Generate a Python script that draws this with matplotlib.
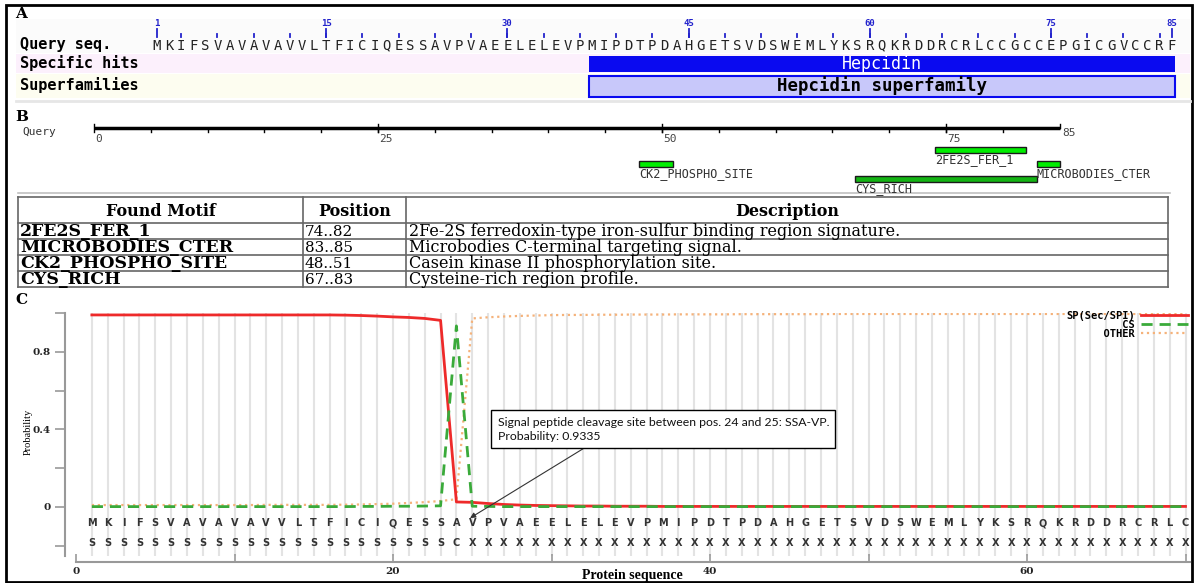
import numpy as np
import matplotlib.pyplot as plt
from matplotlib.patches import Rectangle

W, H = 1195, 583

# ---------------- data ----------------
query_seq = "MKIFSVAVAVAVVLTFICIQESSAVPVAEELELEVPMIPDTPDAHGETSVDSWEMLYKSRQKRDDRCRLCCGCCEPGICGVCCRF"
seq_ticks = [1, 15, 30, 45, 60, 75, 85]
hit_names = ["Hepcidin", "Hepcidin superfamily"]
hit_start = [37, 37]
hit_end = [85, 85]

motif_names = ["2FE2S_FER_1", "MICROBODIES_CTER", "CK2_PHOSPHO_SITE", "CYS_RICH"]
motif_start = [74, 83, 48, 67]
motif_end = [82, 85, 51, 83]
motif_desc = [
    "2Fe-2S ferredoxin-type iron-sulfur binding region signature.",
    "Microbodies C-terminal targeting signal.",
    "Casein kinase II phosphorylation site.",
    "Cysteine-rich region profile.",
]
ruler_ticks = [0, 25, 50, 75]
ruler_len = 85

sp_seq = "MKIFSVAVAVAVVLTFICIQESSAVPVAEELELEVPMIPDTPDAHGETSVDSWEMLYKSRQKRDDRCRLC"
sp_class = "SSSSSSSSSSSSSSSSSSSSSSSCXXXXXXXXXXXXXXXXXXXXXXXXXXXXXXXXXXXXXXXXXXXXXX"
sp_prob = [
    0.990, 0.990, 0.990, 0.990, 0.990, 0.990, 0.990, 0.990, 0.990, 0.990,
    0.990, 0.990, 0.990, 0.990, 0.990, 0.990, 0.989, 0.987, 0.984, 0.980,
    0.977, 0.972, 0.962, 0.026, 0.024, 0.018, 0.013, 0.010, 0.008, 0.007,
    0.006, 0.005, 0.005, 0.004, 0.004, 0.004, 0.003, 0.003, 0.003, 0.003,
    0.003, 0.003, 0.003, 0.003, 0.003, 0.003, 0.003, 0.003, 0.003, 0.003,
    0.003, 0.003, 0.003, 0.003, 0.003, 0.003, 0.003, 0.003, 0.003, 0.003,
    0.003, 0.003, 0.003, 0.003, 0.003, 0.003, 0.003, 0.003, 0.003, 0.003,
]
cs_prob = [
    0.002, 0.002, 0.002, 0.002, 0.002, 0.002, 0.002, 0.002, 0.002, 0.002,
    0.002, 0.002, 0.002, 0.002, 0.002, 0.002, 0.002, 0.003, 0.003, 0.004,
    0.004, 0.005, 0.006, 0.9335, 0.004, 0.003, 0.002, 0.002, 0.002, 0.002,
    0.002, 0.002, 0.002, 0.002, 0.002, 0.002, 0.002, 0.002, 0.002, 0.002,
    0.002, 0.002, 0.002, 0.002, 0.002, 0.002, 0.002, 0.002, 0.002, 0.002,
    0.002, 0.002, 0.002, 0.002, 0.002, 0.002, 0.002, 0.002, 0.002, 0.002,
    0.002, 0.002, 0.002, 0.002, 0.002, 0.002, 0.002, 0.002, 0.002, 0.002,
]
other_prob = [
    0.010, 0.010, 0.010, 0.010, 0.010, 0.010, 0.010, 0.010, 0.010, 0.010,
    0.010, 0.011, 0.011, 0.011, 0.011, 0.011, 0.012, 0.013, 0.015, 0.017,
    0.021, 0.025, 0.031, 0.040, 0.972, 0.978, 0.982, 0.985, 0.987, 0.989,
    0.990, 0.990, 0.991, 0.991, 0.992, 0.992, 0.992, 0.993, 0.993, 0.993,
    0.993, 0.994, 0.994, 0.994, 0.994, 0.994, 0.994, 0.995, 0.995, 0.995,
    0.995, 0.995, 0.995, 0.995, 0.995, 0.995, 0.995, 0.995, 0.995, 0.995,
    0.995, 0.995, 0.995, 0.995, 0.995, 0.995, 0.995, 0.995, 0.995, 0.995,
]
cleave_note = "Signal peptide cleavage site between pos. 24 and 25: SSA-VP.\nProbability: 0.9335"
cleave_pos = 25

fig = plt.figure(figsize=(W / 100, H / 100), dpi=100)


def px_axes(x0, y0, x1, y1):
    return fig.add_axes([x0 / W, 1 - y1 / H, (x1 - x0) / W, (y1 - y0) / H])


MONO = "DejaVu Sans Mono"
SERIF = "DejaVu Serif"

# overlay in pixel coords: frame, panel letters, table
ax_o = px_axes(0, 0, W, H)
ax_o.set_xlim(0, W)
ax_o.set_ylim(H, 0)
ax_o.axis("off")
ax_o.add_patch(Rectangle((6, 5), 1186, 577, fill=False, lw=2, ec="black"))
for lab, yy in zip("ABC", [14, 117, 300]):
    ax_o.text(15, yy, lab, family=SERIF, weight="bold", fontsize=11, va="center")

# ---------------- panel A ----------------
ax_o.add_patch(Rectangle((16, 19), 1174, 34, fc="#fbfbfb", ec="none"))
ax_o.add_patch(Rectangle((16, 54), 1174, 19, fc="#fcf0fc", ec="none"))
ax_o.add_patch(Rectangle((16, 74), 1174, 24, fc="#fdfdf0", ec="none"))
ax_o.plot([16, 1190], [101, 101], color="#e6e6e6", lw=2)
for lab, yy in zip(["Query seq.", "Specific hits", "Superfamilies"], [45, 63, 85]):
    ax_o.text(20, yy, lab, family=MONO, weight="bold", fontsize=11, va="center")

a_x0, a_dx = 157, 12.08
ax_a = px_axes(0, 0, W, 103)
ax_a.set_xlim((0 - a_x0) / a_dx + 1, (W - a_x0) / a_dx + 1)
ax_a.set_ylim(103, 0)
ax_a.axis("off")

for i, ch in enumerate(query_seq):
    ax_a.text(i + 1, 45.5, ch, ha="center", va="center", family=MONO,
              fontsize=10, color="#222222")
for r in range(3, len(query_seq) + 1, 3):
    ax_a.plot([r, r], [34, 37.5], color="#2222cc", lw=1.3)
for r in seq_ticks:
    ax_a.plot([r, r], [29, 37.5], color="#2222cc", lw=1.3)
    ax_a.text(r, 24, str(r), ha="center", va="center", family=MONO,
              fontsize=6.5, color="#2222cc", weight="bold")

ax_a.barh(64, hit_end[0] - hit_start[0] + 0.45, left=hit_start[0] + 0.8 - 1, height=16,
          color="#0a0af0")
ax_a.text((hit_start[0] + hit_end[0]) / 2, 64, hit_names[0], ha="center", va="center",
          family=MONO, fontsize=12, color="white")
ax_a.barh(86, hit_end[1] - hit_start[1] + 0.45, left=hit_start[1] + 0.8 - 1, height=21,
          color="#c8c8fa", edgecolor="#0a0af0", lw=1.5)
ax_a.text((hit_start[1] + hit_end[1]) / 2, 86, hit_names[1], ha="center", va="center",
          family=MONO, fontsize=12.5, weight="bold", color="black")

# ---------------- panel B ----------------
b_x0, b_dx = 94, 11.36
ax_b = px_axes(0, 103, W, 195)
ax_b.set_xlim((0 - b_x0) / b_dx, (W - b_x0) / b_dx)
ax_b.set_ylim(195, 103)
ax_b.axis("off")
ax_o.text(22, 132, "Query", family=MONO, fontsize=8, color="#333333", va="center")

ax_b.plot([0, ruler_len], [128, 128], color="black", lw=2.5, solid_capstyle="butt")
for r in range(5, ruler_len, 5):
    ax_b.plot([r, r], [128, 131.5], color="black", lw=1)
for r in ruler_ticks:
    ax_b.plot([r, r], [124, 131.5], color="black", lw=1)
    ax_b.text(r + 0.1, 139.5, str(r), ha="left", va="center", family=MONO,
              fontsize=8, color="#444444")
ax_b.plot([ruler_len, ruler_len], [124, 128], color="black", lw=1)
ax_b.text(ruler_len + 0.2, 133, str(ruler_len), ha="left", va="center", family=MONO,
          fontsize=8, color="#444444")

lane_y = [150, 164, 164, 179]
lane_col = ["#00ee00", "#00ee00", "#00ee00", "#14b414"]
for name, s, e, yy, c in zip(motif_names, motif_start, motif_end, lane_y, lane_col):
    ax_b.barh(yy, e - s, left=s, height=6, color=c, edgecolor="#1a1a1a", lw=1)
    ax_b.text(s, yy + 3.2, name, ha="left", va="top", family=MONO,
              fontsize=8.5, color="#333333")
ax_o.plot([18, 1170], [193, 193], color="#c0c0c0", lw=1.2)

# ---------------- table ----------------
col_x = [18, 303, 406, 1168]
row_y = [197, 223, 239, 255, 271, 287]
for xx in col_x:
    ax_o.plot([xx, xx], [row_y[0], row_y[-1]], color="#666666", lw=1.2)
for yy in row_y:
    ax_o.plot([col_x[0], col_x[-1]], [yy, yy], color="#666666", lw=1.2)
headers = ["Found Motif", "Position", "Description"]
for k, htxt in enumerate(headers):
    ax_o.text((col_x[k] + col_x[k + 1]) / 2, (row_y[0] + row_y[1]) / 2 + 1, htxt,
              ha="center", va="center", family=SERIF, weight="bold", fontsize=11.5)
for k in range(len(motif_names)):
    yc = (row_y[k + 1] + row_y[k + 2]) / 2 + 0.5
    ax_o.text(col_x[0] + 2, yc, motif_names[k], ha="left", va="center",
              family=SERIF, weight="bold", fontsize=12.5)
    ax_o.text(col_x[1] + 2, yc, f"{motif_start[k]}..{motif_end[k]}", ha="left",
              va="center", family=SERIF, fontsize=11)
    ax_o.text(col_x[2] + 3, yc, motif_desc[k], ha="left", va="center",
              family=SERIF, fontsize=11.5)

# ---------------- panel C ----------------
c_x0, c_dx = 76, 15.85
ax_c = px_axes(c_x0, 313, 1190, 555.5)
ax_c.patch.set_alpha(0)
ax_c.set_xlim(0, (1190 - c_x0) / c_dx)
ax_c.set_ylim(-0.25, 1.0)

pos = np.arange(1, len(sp_prob) + 1)
ax_c.vlines(pos, -0.25, 1.0, color="#e3e3e3", lw=1.5, zorder=0)

ax_c.plot(pos, other_prob, color="#f5b27a", lw=1.6, ls=":", label="      OTHER", zorder=2)
ax_c.plot(pos, sp_prob, color="#ee2a2a", lw=2, label="SP(Sec/SPI)", zorder=3)
ax_c.plot(pos, cs_prob, color="#3aaa3a", lw=2, ls=(0, (4, 2.5)), label="         CS",
          zorder=4)

for i, ch in enumerate(sp_seq):
    ax_c.text(pos[i], -0.083, ch, ha="center", va="center", family="DejaVu Sans",
              weight="bold", fontsize=7, color="#333333")
for i, ch in enumerate(sp_class):
    ax_c.text(pos[i], -0.187, ch, ha="center", va="center", family="DejaVu Sans",
              weight="bold", fontsize=7, color="#333333")

for side in ["top", "right"]:
    ax_c.spines[side].set_visible(False)
ax_c.spines["left"].set_position(("outward", 8))
ax_c.spines["bottom"].set_position(("outward", 5))
for side in ["left", "bottom"]:
    ax_c.spines[side].set_color("#999999")
    ax_c.spines[side].set_linewidth(1.5)

ax_c.set_yticks([0, 0.4, 0.8])
ax_c.set_yticklabels(["0", "0.4", "0.8"])
ax_c.set_yticks([-0.2, 0.2, 0.6, 1.0], minor=True)
ax_c.set_xticks([0, 20, 40, 60])
ax_c.set_xticks([10, 30, 50, 70], minor=True)
ax_c.tick_params(axis="y", which="both", direction="out", length=7, width=1.2,
                 color="#999999", labelsize=7.5, pad=3)
ax_c.tick_params(axis="x", which="both", direction="in", length=6, width=1.2,
                 color="#999999", labelsize=7.5, pad=3)
for t in ax_c.get_xticklabels() + ax_c.get_yticklabels():
    t.set_family(SERIF)
    t.set_weight("bold")
    t.set_color("#222222")

handles, labels = ax_c.get_legend_handles_labels()
order = [1, 2, 0]
ax_c.legend([handles[k] for k in order], [labels[k] for k in order],
            loc="upper right", bbox_to_anchor=(1188 / W, 1 - 311 / H),
            bbox_transform=fig.transFigure, frameon=False, markerfirst=False,
            prop=dict(family=MONO, weight="bold", size=7.5), handlelength=4.5,
            handletextpad=0.6, labelspacing=-0.1, borderpad=0, borderaxespad=0)

ax_c.annotate(cleave_note, xy=(cleave_pos - 0.14, -0.057), xytext=(26.6, 0.466),
              ha="left", va="top", family="Lato", fontsize=8.8, linespacing=1.4,
              color="#111111",
              bbox=dict(boxstyle="square,pad=0.5", fc="white", ec="black", lw=1),
              arrowprops=dict(arrowstyle="-|>", color="#333333", lw=0.8,
                              relpos=(0.29, 0), shrinkA=0, shrinkB=0,
                              mutation_scale=8),
              zorder=6)

ax_o.text(28, 432, "Probability", rotation=90, family="Liberation Serif",
          fontsize=7.5, ha="center", va="center")
ax_o.text(632, 576, "Protein sequence", family="Liberation Serif", weight="bold",
          fontsize=10, ha="center", va="center")

fig.savefig("out.png", dpi=100)
